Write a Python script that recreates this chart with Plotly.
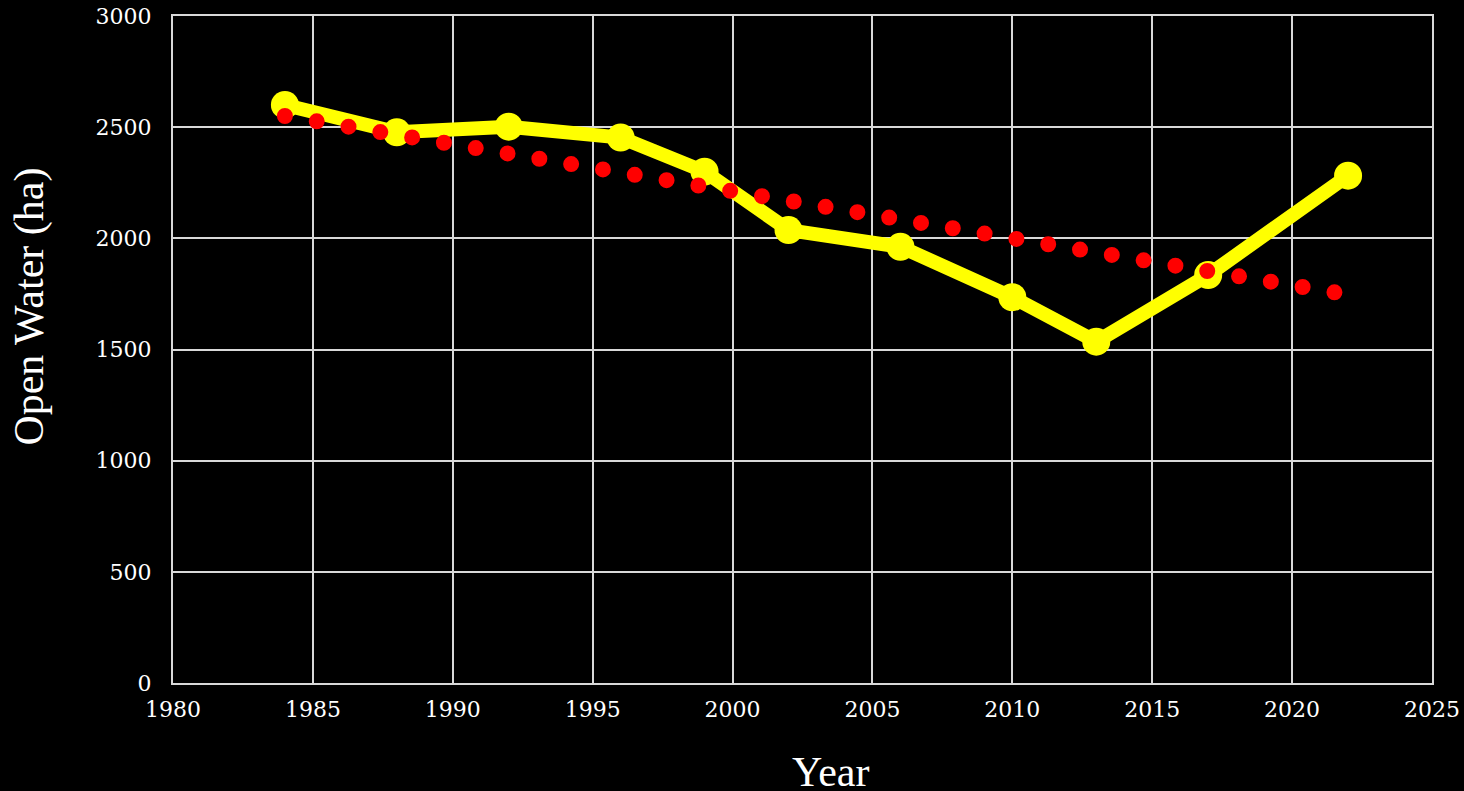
import numpy as np
import plotly.graph_objects as go

years = [1984, 1988, 1992, 1996, 1999, 2002, 2006, 2010, 2013, 2017, 2022]
open_water = [2600, 2477, 2502, 2453, 2300, 2037, 1962, 1735, 1535, 1835, 2282]

x_ticks = [1980, 1985, 1990, 1995, 2000, 2005, 2010, 2015, 2020, 2025]
y_ticks = [0, 500, 1000, 1500, 2000, 2500, 3000]

# Linear trendline (least squares fit of the series)
slope, intercept = np.polyfit(years, open_water, 1)
trend_x = [years[0], years[-1]]
trend_y = [slope * x + intercept for x in trend_x]

FONT = "Liberation Serif"
TICK_FONT = "DejaVu Serif"

fig = go.Figure()
fig.add_trace(go.Scatter(
    x=years, y=open_water, mode="lines+markers",
    line=dict(color="#FFFF00", width=14),
    marker=dict(color="#FFFF00", size=28),
    showlegend=False, hoverinfo="x+y",
))
fig.add_trace(go.Scatter(
    x=trend_x, y=trend_y, mode="lines",
    line=dict(color="#FF0000", width=16, dash="0px,32.25px"),
    showlegend=False, hoverinfo="skip",
))

fig.update_layout(
    width=1464, height=791,
    paper_bgcolor="#000000", plot_bgcolor="#000000",
    margin=dict(l=173, r=32, t=16, b=108),
    font=dict(family=FONT, color="#FFFFFF", size=22),
    showlegend=False,
    annotations=[
        dict(text="Year", xref="paper", yref="paper", x=0.522, y=-0.133,
             xanchor="center", yanchor="middle", showarrow=False,
             font=dict(family=FONT, size=42, color="#FFFFFF")),
        dict(text="Open Water (ha)", xref="paper", yref="paper", x=-0.114, y=0.565,
             xanchor="center", yanchor="middle", textangle=-90, showarrow=False,
             font=dict(family=FONT, size=42, color="#FFFFFF")),
    ],
)
fig.update_xaxes(
    range=[1980, 2025], tickvals=x_ticks, ticktext=[str(v) for v in x_ticks],
    showgrid=True, gridcolor="#d9d9d9", gridwidth=2,
    showline=True, linecolor="#d9d9d9", linewidth=2, mirror=True,
    zeroline=False, ticks="", ticklabelstandoff=6, automargin=False,
    tickfont=dict(family=TICK_FONT, size=22, color="#FFFFFF"),
)
fig.update_yaxes(
    range=[0, 3000], tickvals=y_ticks, ticktext=[str(v) for v in y_ticks],
    showgrid=True, gridcolor="#d9d9d9", gridwidth=2,
    showline=True, linecolor="#d9d9d9", linewidth=2, mirror=True,
    zeroline=False, ticks="", ticklabelstandoff=15, automargin=False,
    tickfont=dict(family=TICK_FONT, size=22, color="#FFFFFF"),
)

post = """
document.body.style.margin = '0';
document.body.style.background = '#000000';
document.body.style.overflow = 'hidden';
var gd = document.getElementById('{plot_id}');
var traces = gd.querySelectorAll('.scatterlayer .trace');
if (traces.length > 1) {
  traces[1].querySelectorAll('.js-line').forEach(function(p){ p.style.strokeLinecap = 'round'; });
}
"""
fig.write_html("out.html", post_script=post, config={"displayModeBar": False})
